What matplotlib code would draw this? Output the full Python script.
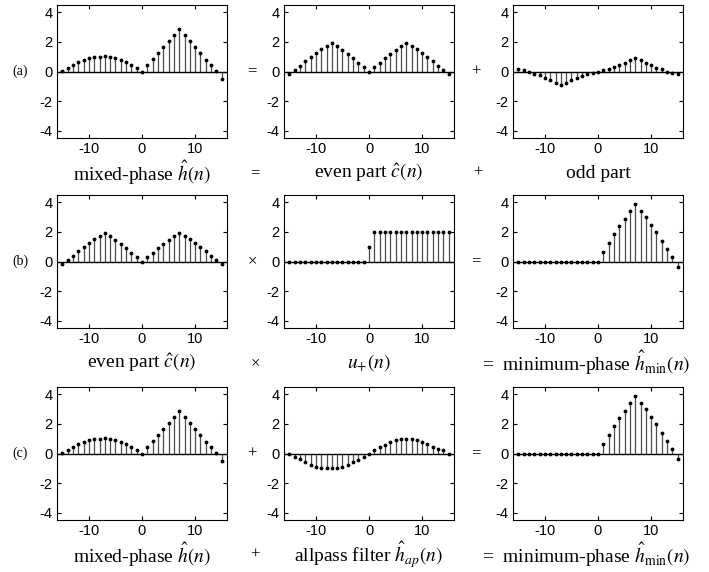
import numpy as np
import matplotlib
matplotlib.use("Agg")
import matplotlib.pyplot as plt

plt.rcParams['font.family'] = ['Liberation Sans', 'DejaVu Sans']
plt.rcParams['mathtext.fontset'] = 'stix'
plt.rcParams['axes.unicode_minus'] = False

n = np.arange(-15, 16)

mixed_phase = [0.05, 0.27, 0.43, 0.64, 0.77, 0.89, 0.98, 1.0, 1.02, 1.0, 0.89, 0.77, 0.64, 0.43, 0.25,
               0.0,
               0.43, 0.82, 1.25, 1.66, 2.05, 2.5, 2.9, 2.5, 2.05, 1.66, 1.25, 0.8, 0.43, 0.05, -0.48]
even_part = [-0.18, 0.09, 0.4, 0.68, 1.0, 1.27, 1.5, 1.73, 1.91, 1.7, 1.45, 1.18, 0.9, 0.6, 0.32,
             0.0,
             0.32, 0.6, 0.9, 1.18, 1.45, 1.7, 1.91, 1.73, 1.5, 1.27, 1.0, 0.68, 0.4, 0.09, -0.18]
odd_part = [0.18, 0.09, 0.0, -0.14, -0.27, -0.41, -0.59, -0.77, -0.93, -0.77, -0.59, -0.45, -0.32, -0.18, -0.09,
            0.0,
            0.09, 0.18, 0.32, 0.45, 0.59, 0.77, 0.93, 0.77, 0.59, 0.41, 0.27, 0.14, 0.0, -0.09, -0.18]
u_plus = [0.0] * 15 + [1.0] + [2.0] * 15
min_phase = [0.0] * 15 + [0.0] + [0.67, 1.25, 1.83, 2.37, 2.9, 3.4, 3.87, 3.44, 3.0, 2.5, 1.97, 1.4, 0.85, 0.29, -0.4]
allpass = [0.0, -0.22, -0.37, -0.6, -0.77, -0.88, -0.95, -0.99, -0.99, -0.95, -0.88, -0.77, -0.6, -0.42, -0.22,
           0.0,
           0.22, 0.42, 0.57, 0.79, 0.9, 0.97, 0.99, 0.97, 0.9, 0.79, 0.62, 0.42, 0.29, 0.22, 0.0]

grid = [[mixed_phase, even_part, odd_part],
        [even_part, u_plus, min_phase],
        [mixed_phase, allpass, min_phase]]

captions = [["mixed-phase $\\hat{h}(n)$", "even part $\\hat{c}(n)$", "odd part"],
            ["even part $\\hat{c}(n)$", "$u_{+}(n)$", "minimum-phase $\\hat{h}_{\\min}(n)$"],
            ["mixed-phase $\\hat{h}(n)$", "allpass filter $\\hat{h}_{ap}(n)$", "minimum-phase $\\hat{h}_{\\min}(n)$"]]
row_labels = ["(a)", "(b)", "(c)"]
mid_ops = [["=", "+"], ["\u00d7", "="], ["+", "="]]
cap_ops = [["=", "+"], ["\u00d7", "="], ["+", "="]]

W, H = 709, 572
fig = plt.figure(figsize=(W / 100, H / 100), dpi=100)

col_left = [57, 284, 513]
col_w = 170
row_top = [5, 195, 387]
row_h = 133

serif = ['Liberation Serif', 'DejaVu Serif']

for r in range(3):
    for c in range(3):
        ax = fig.add_axes([col_left[c] / W, 1 - (row_top[r] + row_h) / H, col_w / W, row_h / H])
        y = np.array(grid[r][c])
        ml, sl, bl = ax.stem(n, y, basefmt=' ')
        plt.setp(sl, color='0.3', linewidth=0.9)
        plt.setp(ml, color='k', marker='.', markersize=3.5)
        ax.axhline(0, color='k', linewidth=1.0, zorder=3)
        ax.set_xlim(-16, 16)
        ax.set_ylim(-4.5, 4.5)
        ax.set_xticks([-10, 0, 10])
        ax.set_yticks([-4, -2, 0, 2, 4])
        ax.tick_params(direction='in', length=3, top=True, right=True, labelsize=10.5, pad=3)
        for s in ax.spines.values():
            s.set_linewidth(0.8)
        # caption
        cx = (col_left[c] + col_w / 2) / W
        cy = 1 - (row_top[r] + row_h + 35) / H
        txt = captions[r][c]
        if r > 0 and c == 2:
            txt = "=  " + txt
            cx = (col_left[c] + col_w / 2 - 12) / W
        fig.text(cx, cy, txt, ha='center', va='center', fontsize=14, family=serif)
    # row label
    ymid = 1 - (row_top[r] + row_h / 2) / H
    fig.text(20 / W, ymid, row_labels[r], ha='center', va='center', fontsize=10, family=serif)
    # operators between axes
    fig.text(252 / W, ymid, mid_ops[r][0], ha='center', va='center', fontsize=12, family=serif)
    fig.text(476 / W, ymid, mid_ops[r][1], ha='center', va='center', fontsize=12, family=serif)
    # operators between captions
    cy = 1 - (row_top[r] + row_h + 35) / H
    fig.text(255 / W, cy, cap_ops[r][0], ha='center', va='center', fontsize=12, family=serif)
    if r == 0:
        fig.text(478 / W, cy, cap_ops[r][1], ha='center', va='center', fontsize=12, family=serif)

fig.savefig("out.png", dpi=100)
